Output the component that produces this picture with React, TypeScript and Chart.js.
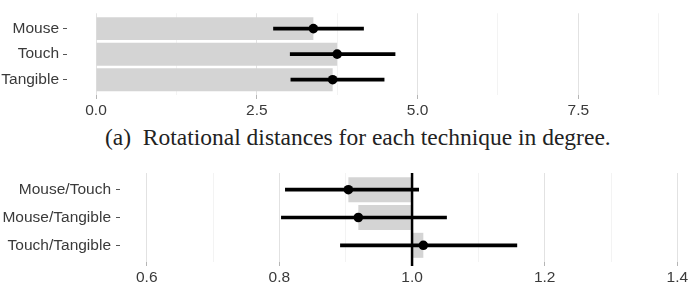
import React, { useEffect, useRef } from "react";
import { Chart, registerables } from "chart.js";

Chart.register(...registerables);

// ---- Data: panel (a) rotational distances ----
const techniques = ["Mouse", "Touch", "Tangible"];
const techMeans = [3.38, 3.75, 3.68];
const techLow = [2.76, 3.02, 3.03];
const techHigh = [4.16, 4.65, 4.48];
const techTicks = [0, 1.25, 2.5, 3.75, 5, 6.25, 7.5, 8.75];
const techMajorTicks = [0, 2.5, 5, 7.5];

// ---- Data: ratios ----
const pairs = ["Mouse/Touch", "Mouse/Tangible", "Touch/Tangible"];
const ratioMeans = [0.904, 0.919, 1.017];
const ratioLow = [0.809, 0.803, 0.892];
const ratioHigh = [1.01, 1.052, 1.158];
const ratioTicks = [0.6, 0.7, 0.8, 0.9, 1.0, 1.1, 1.2, 1.3, 1.4];
const ratioMajorTicks = [0.6, 0.8, 1.0, 1.2, 1.4];
const ratioReference = 1.0;

const caption = "(a)  Rotational distances for each technique in degree.";

const FONT = "'Liberation Sans', Arial, Helvetica, sans-serif";
const TEXT_COLOR = "#3a3a3a";
const BAR_COLOR = "#d4d4d4";

const isIn = (list: number[], v: number) => list.some((m) => Math.abs(m - v) < 1e-6);

function buildConfig(opts: {
  cats: string[];
  base: number;
  means: number[];
  low: number[];
  high: number[];
  ticks: number[];
  major: number[];
  xMin: number;
  xMax: number;
  yWidth: number;
  padding: { top: number; right: number; bottom: number; left: number };
  labelPad: number;
  refLine?: number;
}): any {
  const { cats, base, means, low, high, ticks, major } = opts;
  const refPlugin = {
    id: "refLine",
    afterDatasetsDraw(chart: any) {
      if (opts.refLine === undefined) return;
      const { ctx, chartArea } = chart;
      const x = chart.scales.x.getPixelForValue(opts.refLine);
      ctx.save();
      ctx.strokeStyle = "#000";
      ctx.lineWidth = 2.5;
      ctx.beginPath();
      ctx.moveTo(x, chartArea.top);
      ctx.lineTo(x, chartArea.bottom + 4);
      ctx.stroke();
      ctx.restore();
    },
  };
  return {
    type: "bar",
    data: {
      datasets: [
        {
          type: "scatter",
          order: 1,
          data: means.map((m, i) => ({ x: m, y: i })),
          backgroundColor: "#000",
          borderColor: "#000",
          borderWidth: 0,
          pointRadius: 4.8,
          showLine: false,
        },
        {
          type: "bar",
          order: 2,
          grouped: false,
          data: low.map((l, i) => ({ x: [l, high[i]], y: i })),
          backgroundColor: "#000",
          barThickness: 3,
        },
        {
          type: "bar",
          order: 3,
          grouped: false,
          data: means.map((m, i) => ({ x: [base, m], y: i })),
          backgroundColor: BAR_COLOR,
          categoryPercentage: 1,
          barPercentage: 0.9,
        },
      ],
    },
    options: {
      indexAxis: "y",
      animation: false,
      responsive: false,
      maintainAspectRatio: false,
      layout: { padding: opts.padding },
      plugins: { legend: { display: false }, tooltip: { enabled: false } },
      scales: {
        x: {
          type: "linear",
          min: opts.xMin,
          max: opts.xMax,
          afterBuildTicks: (axis: any) => {
            axis.ticks = ticks.map((v) => ({ value: v }));
          },
          afterFit: (s: any) => {
            s.height = 24;
          },
          border: { display: false },
          grid: {
            color: (ctx: any) =>
              ctx.tick && isIn(major, ctx.tick.value) ? "#e2e2e2" : "#f3f3f3",
            lineWidth: 1,
            tickLength: 4,
            tickColor: (ctx: any) =>
              ctx.tick && isIn(major, ctx.tick.value) ? "#b5b5b5" : "rgba(0,0,0,0)",
          },
          ticks: {
            autoSkip: false,
            maxRotation: 0,
            padding: 2,
            color: TEXT_COLOR,
            font: { family: FONT, size: 15.5 },
            callback: (v: any) => (isIn(major, Number(v)) ? Number(v).toFixed(1) : ""),
          },
        },
        y: {
          type: "linear",
          offset: false,
          min: -0.6,
          max: cats.length - 1 + 0.6,
          reverse: true,
          afterBuildTicks: (axis: any) => {
            axis.ticks = cats.map((_, i) => ({ value: i }));
          },
          afterFit: (s: any) => {
            s.width = opts.yWidth;
          },
          border: { display: false },
          grid: {
            offset: false,
            drawOnChartArea: false,
            drawTicks: true,
            tickLength: 4,
            tickColor: "#555",
            lineWidth: 1,
          },
          ticks: {
            autoSkip: false,
            padding: opts.labelPad,
            color: TEXT_COLOR,
            font: { family: FONT, size: 15.5 },
            callback: (v: any) => cats[Math.round(Number(v))] ?? "",
          },
        },
      },
    },
    plugins: [refPlugin],
  };
}

function ChartCanvas({ config, width, height, top }: { config: any; width: number; height: number; top: number }) {
  const ref = useRef<HTMLCanvasElement | null>(null);
  useEffect(() => {
    if (!ref.current) return;
    const chart = new Chart(ref.current, config);
    return () => chart.destroy();
  }, [config]);
  return (
    <canvas
      ref={ref}
      width={width}
      height={height}
      style={{ position: "absolute", left: 0, top, width, height, display: "block" }}
    />
  );
}

const topConfig = buildConfig({
  cats: techniques,
  base: 0,
  means: techMeans,
  low: techLow,
  high: techHigh,
  ticks: techTicks,
  major: techMajorTicks,
  xMin: -0.451,
  xMax: 9.174,
  yWidth: 67,
  padding: { top: 8, right: 5, bottom: 0, left: 0 },
  labelPad: 4,
});

const bottomConfig = buildConfig({
  cats: pairs,
  base: ratioReference,
  means: ratioMeans,
  low: ratioLow,
  high: ratioHigh,
  ticks: ratioTicks,
  major: ratioMajorTicks,
  xMin: 0.5597,
  xMax: 1.413,
  yWidth: 120,
  padding: { top: 23, right: 5, bottom: 7, left: 0 },
  labelPad: 5,
  refLine: ratioReference,
});

export default function App() {
  return (
    <div style={{ position: "absolute", left: 0, top: 0, width: 691, height: 293, background: "#fff", overflow: "hidden" }}>
      <ChartCanvas config={topConfig} width={691} height={119} top={0} />
      <div
        style={{
          position: "absolute",
          left: 105,
          top: 124,
          fontFamily: "'Liberation Serif', 'Times New Roman', serif",
          fontSize: 23.5,
          lineHeight: "27px",
          color: "#222",
          whiteSpace: "pre",
        }}
      >
        {caption}
      </div>
      <ChartCanvas config={bottomConfig} width={691} height={143} top={150} />
    </div>
  );
}
